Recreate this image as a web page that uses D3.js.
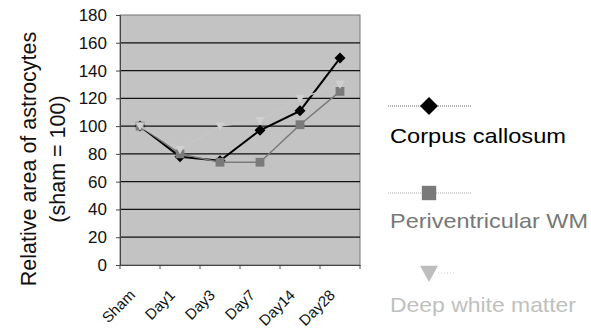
<!DOCTYPE html>
<html>
<head>
<meta charset="utf-8">
<script src="https://cdn.jsdelivr.net/npm/d3@7"></script>
<style>
  body { margin: 0; background: #fff; }
  svg { font-family: 'Liberation Sans', Arial, sans-serif; }
</style>
</head>
<body>
<svg width="591" height="329"></svg>
<script>
const categories = ['Sham', 'Day1', 'Day3', 'Day7', 'Day14', 'Day28'];
const corpusCallosum = [100, 78, 75, 97, 111, 149];
const periventricularWM = [100, 80, 74, 74, 101, 125];
const deepWhiteMatter = [100, 83, 100, 104, 120, 130];
const yTicks = [0, 20, 40, 60, 80, 100, 120, 140, 160, 180];

const svg = d3.select('svg');
const PLOT = { LEFT: 120, RIGHT: 360, TOP: 15, BOTTOM: 265 };

const x = d3.scaleBand().domain(categories).range([PLOT.LEFT, PLOT.RIGHT]);
const y = d3.scaleLinear().domain([0, 180]).range([PLOT.BOTTOM, PLOT.TOP]);

// plot background
svg.append('rect')
  .attr('x', PLOT.LEFT)
  .attr('y', PLOT.TOP)
  .attr('width', PLOT.RIGHT - PLOT.LEFT)
  .attr('height', PLOT.BOTTOM - PLOT.TOP)
  .attr('fill', '#c3c3c3')
  .attr('stroke', '#777')
  .attr('stroke-width', 1);

// gridlines
svg.append('g')
  .selectAll('line')
  .data(yTicks.filter(d => d > 0 && d < 180))
  .join('line')
  .attr('x1', PLOT.LEFT)
  .attr('x2', PLOT.RIGHT)
  .attr('y1', d => y(d))
  .attr('y2', d => y(d))
  .attr('stroke', '#111')
  .attr('stroke-width', 1.2);

// y axis
const yAxis = svg.append('g')
  .attr('transform', `translate(${PLOT.LEFT},0)`)
  .call(d3.axisLeft(y).tickValues(yTicks).tickSize(4).tickPadding(9));
yAxis.select('.domain').attr('stroke', '#444');
yAxis.selectAll('.tick line').attr('stroke', '#444');
yAxis.selectAll('text').attr('font-size', 17).attr('fill', '#111');

// x axis
const xAxis = svg.append('g')
  .attr('transform', `translate(0,${PLOT.BOTTOM})`)
  .call(d3.axisBottom(x).tickSize(0).tickFormat(''));
xAxis.select('.domain').attr('stroke', '#444');
// band boundary ticks
svg.append('g')
  .selectAll('line')
  .data(d3.range(categories.length + 1))
  .join('line')
  .attr('x1', i => PLOT.LEFT + i * x.bandwidth())
  .attr('x2', i => PLOT.LEFT + i * x.bandwidth())
  .attr('y1', PLOT.BOTTOM)
  .attr('y2', PLOT.BOTTOM + 4)
  .attr('stroke', '#444');

const cx = d => x(d) + x.bandwidth() / 2;

// category labels, rotated
svg.append('g')
  .selectAll('text')
  .data(categories)
  .join('text')
  .attr('transform', d => `translate(${cx(d) - 4},${PLOT.BOTTOM + 31}) rotate(-45)`)
  .attr('text-anchor', 'end')
  .attr('font-size', 15)
  .attr('fill', '#111')
  .text(d => d);

// y title
const title = svg.append('text')
  .attr('transform', 'translate(36,159) rotate(-90)')
  .attr('text-anchor', 'middle')
  .attr('font-size', 21.5)
  .attr('fill', '#111');
title.append('tspan').attr('x', 0).attr('dy', 0).text('Relative area of astrocytes');
title.append('tspan').attr('x', 0).attr('dy', 29).text('(sham = 100)');

const line = d3.line()
  .x((d, i) => cx(categories[i]))
  .y(d => y(d));

const series = [
  { name: 'Corpus callosum', values: corpusCallosum, color: '#000', fill: '#000', marker: 'diamond', size: 5.5, text: '#000', len: 176 },
  { name: 'Periventricular WM', values: periventricularWM, color: '#7a7a7a', fill: '#7a7a7a', marker: 'square', size: 5.5, text: '#777', len: 198 },
  { name: 'Deep white matter', values: deepWhiteMatter, color: '#c6c6c6', fill: '#d0d0d0', marker: 'triangle', size: 4.5, text: '#c0c0c0', len: 186 }
];

function markerPath(type, s) {
  if (type === 'diamond') return `M0,${-s}L${s},0L0,${s}L${-s},0Z`;
  if (type === 'square') return `M${-s * 0.8},${-s * 0.8}H${s * 0.8}V${s * 0.8}H${-s * 0.8}Z`;
  return `M${-s},${-s * 0.8}H${s}L0,${s}Z`;
}

// series drawn in order, the last one ends up on top
series.forEach(s => {
  svg.append('path')
    .attr('d', line(s.values))
    .attr('fill', 'none')
    .attr('stroke', s.color)
    .attr('stroke-width', s.marker === 'diamond' ? 2 : 1.5);
  svg.append('g')
    .selectAll('path')
    .data(s.values)
    .join('path')
    .attr('d', markerPath(s.marker, s.size))
    .attr('transform', (d, i) => `translate(${cx(categories[i])},${y(d)})`)
    .attr('fill', s.fill);
});

// legend
const legendY = [106, 193, 273];
const legendText = [143, 228, 312];
series.forEach((s, i) => {
  const gl = svg.append('g').attr('transform', `translate(0,${legendY[i]})`);
  if (s.marker !== 'triangle') {
    gl.append('line')
      .attr('x1', 388).attr('x2', 472)
      .attr('stroke', s.marker === 'diamond' ? '#666' : '#aaa')
      .attr('stroke-dasharray', '1,1');
  } else {
    gl.append('line')
      .attr('x1', 438).attr('x2', 456)
      .attr('stroke', '#ccc')
      .attr('stroke-dasharray', '1,2');
  }
  gl.append('path')
    .attr('d', markerPath(s.marker, 9))
    .attr('transform', 'translate(429,0)')
    .attr('fill', s.marker === 'triangle' ? '#bdbdbd' : s.fill);
  svg.append('text')
    .attr('x', 390)
    .attr('y', legendText[i])
    .attr('font-size', 21)
    .attr('textLength', s.len)
    .attr('lengthAdjust', 'spacingAndGlyphs')
    .attr('fill', s.text)
    .text(s.name);
});
</script>
</body>
</html>
